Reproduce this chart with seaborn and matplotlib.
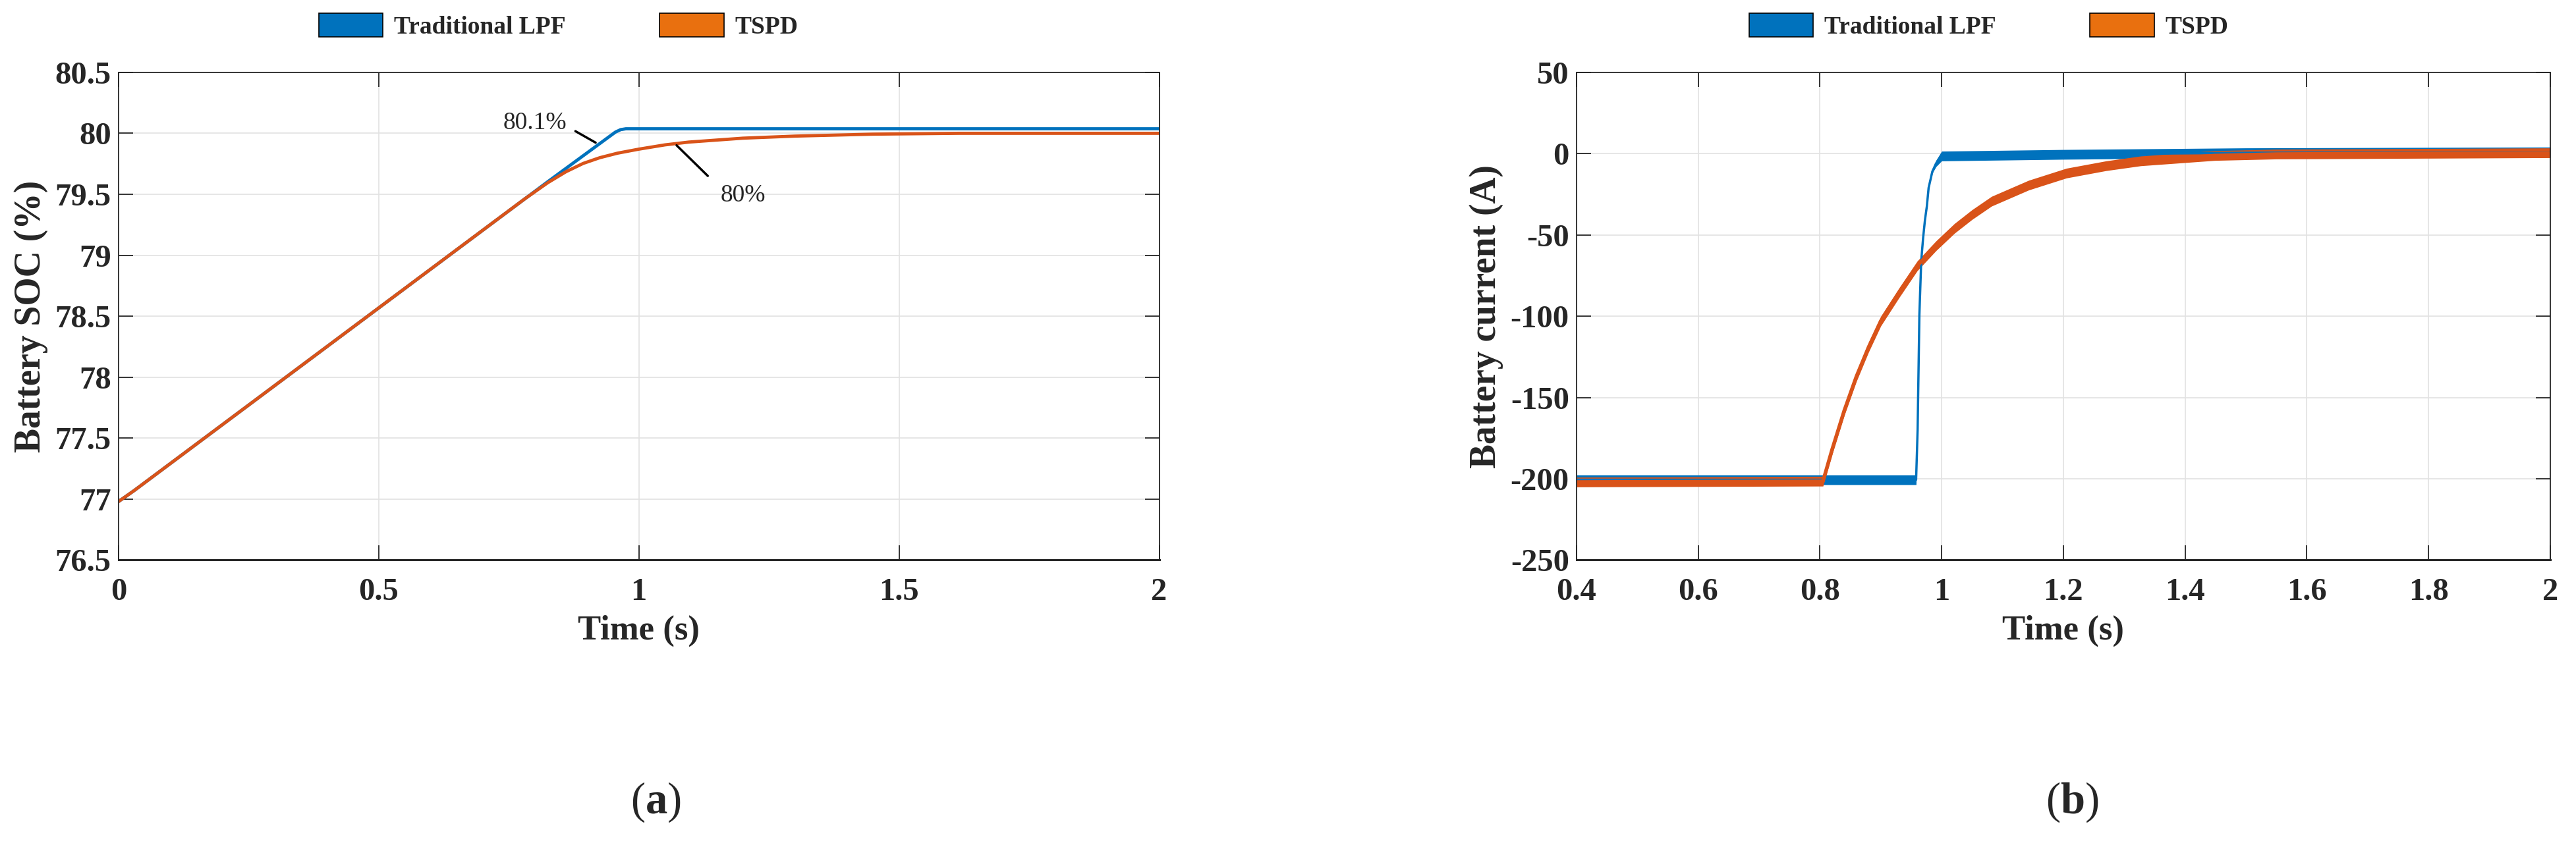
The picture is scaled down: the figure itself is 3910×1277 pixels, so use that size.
import numpy as np
import pandas as pd
import matplotlib
matplotlib.use("Agg")
import matplotlib.pyplot as plt
from matplotlib.patches import Patch
import seaborn as sns

# (a) battery SOC - key points
soc_t_lpf = [0.0, 0.03, 0.825, 0.955, 0.965, 0.975, 2.0]
soc_lpf = [76.98, 77.07, 79.603, 80.01, 80.03, 80.037, 80.037]
soc_t_tspd = [0.0, 0.03, 0.78, 0.825, 0.86, 0.893, 0.925, 0.959, 1.0, 1.05, 1.096,
              1.2, 1.3, 1.45, 1.615, 2.0]
soc_tspd = [76.98, 77.07, 79.46, 79.595, 79.685, 79.753, 79.80, 79.837, 79.87, 79.905, 79.928,
            79.96, 79.977, 79.993, 80.0, 80.0]

# (b) battery current - centre line and ripple half-width
cur_t_lpf = [0.40, 0.958, 0.9605, 0.9634, 0.9664, 0.9695, 0.9725, 0.9756, 0.9786,
             0.9847, 0.9908, 1.0, 1.2, 1.5, 2.0]
cur_lpf = [-200.6, -200.6, -170, -99, -66, -52, -41, -32.6, -21,
           -11, -6, -1.5, -0.5, 0.5, 1.0]
rip_lpf = [3.0, 3.0, 0, 0, 0, 0, 0, 0, 0, 1.0, 2.0, 3.0, 3.0, 3.0, 3.0]

cur_t_tspd = [0.40, 0.805, 0.82, 0.84, 0.86, 0.88, 0.90, 0.93, 0.96, 0.991, 1.021, 1.05,
              1.082, 1.143, 1.205, 1.27, 1.327, 1.449, 1.55, 2.0]
cur_tspd = [-202, -201.5, -182, -158, -137, -119, -103, -85.6, -69, -56.6, -46, -37.5,
            -29.3, -19.4, -12, -7.5, -4.5, -1.2, -0.3, 0.5]
rip_tspd = [3.0] * len(cur_t_tspd)

labels = ["Traditional LPF", "TSPD"]
c_blue = "#0072BD"
c_red = "#D95319"
c_leg = ["#0072BD", "#E9700F"]

sns.set_style("ticks")
plt.rcParams["font.family"] = ["Liberation Serif", "DejaVu Serif"]
plt.rcParams["font.weight"] = "bold"
plt.rcParams["axes.labelweight"] = "bold"
plt.rcParams["axes.unicode_minus"] = False
plt.rcParams["mathtext.fontset"] = "custom"
plt.rcParams["mathtext.rm"] = "Liberation Serif"
plt.rcParams["mathtext.bf"] = "Liberation Serif:bold"

fig = plt.figure(figsize=(39.1, 12.77), dpi=100)
ax1 = fig.add_axes([0.046, 0.334, 0.404, 0.58])
ax2 = fig.add_axes([0.612, 0.334, 0.378, 0.58])


def style(ax):
    ax.grid(True, color="#e2e2e2", lw=1.2)
    ax.set_axisbelow(True)
    for s in ax.spines.values():
        s.set_color("#262626")
        s.set_linewidth(1.3)
    ax.spines["bottom"].set_linewidth(2.2)
    ax.tick_params(direction="in", length=16, width=1.3, top=True, right=True,
                   labelsize=35, colors="#262626")
    ax.tick_params(axis="x", pad=19)
    ax.tick_params(axis="y", pad=8)


# panel (a)
df_a1 = pd.DataFrame({"t": soc_t_lpf, "v": soc_lpf})
df_a2 = pd.DataFrame({"t": soc_t_tspd, "v": soc_tspd})
sns.lineplot(data=df_a1, x="t", y="v", ax=ax1, color=c_blue, lw=3.5, estimator=None, sort=False)
sns.lineplot(data=df_a2, x="t", y="v", ax=ax1, color=c_red, lw=3.5, estimator=None, sort=False)
ax1.set_xlim(0, 2)
ax1.set_ylim(76.5, 80.5)
ax1.set_xticks([0, 0.5, 1, 1.5, 2])
ax1.set_xticklabels(["0", "0.5", "1", "1.5", "2"])
ax1.set_yticks(np.arange(76.5, 80.51, 0.5))
ax1.set_yticklabels(["76.5", "77", "77.5", "78", "78.5", "79", "79.5", "80", "80.5"])
ax1.set_xlabel("Time (s)", fontsize=38, labelpad=9)
ax1.set_ylabel("Battery SOC (%)", fontsize=40, labelpad=8)
style(ax1)

ax1.text(0.80, 80.085, "80.1%", ha="center", va="center", fontsize=27, fontweight="normal")
ax1.annotate("", xy=(0.920, 79.916), xytext=(0.875, 80.025),
             arrowprops=dict(arrowstyle="-", color="black", lw=2.5))
ax1.text(1.20, 79.49, "80%", ha="center", va="center", fontsize=27, fontweight="normal")
ax1.annotate("", xy=(1.135, 79.64), xytext=(1.07, 79.912),
             arrowprops=dict(arrowstyle="-", color="black", lw=2.5))

# panel (b)
t1, y1, r1 = np.array(cur_t_lpf), np.array(cur_lpf), np.array(rip_lpf)
t2, y2, r2 = np.array(cur_t_tspd), np.array(cur_tspd), np.array(rip_tspd)
ax2.fill_between(t1, y1 - r1, y1 + r1, color=c_blue, lw=0)
sns.lineplot(x=t1, y=y1, ax=ax2, color=c_blue, lw=2.5, estimator=None, sort=False)
ax2.fill_between(t2, y2 - r2, y2 + r2, color=c_red, lw=0)
sns.lineplot(x=t2, y=y2, ax=ax2, color=c_red, lw=4, estimator=None, sort=False)
ax2.set_xlim(0.4, 2)
ax2.set_ylim(-250, 50)
ax2.set_xticks(np.arange(0.4, 2.01, 0.2))
ax2.set_xticklabels(["0.4", "0.6", "0.8", "1", "1.2", "1.4", "1.6", "1.8", "2"])
ax2.set_yticks(np.arange(-250, 51, 50))
ax2.set_xlabel("Time (s)", fontsize=38, labelpad=9)
ax2.set_ylabel("Battery current (A)", fontsize=40, labelpad=8)
style(ax2)

# legends
for ax, cx in [(ax1, 0.2168), (ax2, 0.772)]:
    handles = [Patch(facecolor=c, edgecolor="black", lw=1.2, label=l) for c, l in zip(c_leg, labels)]
    ax.legend(handles=handles, loc="center", bbox_to_anchor=(cx, 0.969),
              bbox_transform=fig.transFigure, ncol=2, frameon=False, fontsize=27,
              handlelength=2.6, handleheight=1.1, handletextpad=0.45, columnspacing=3.8)

fig.text(0.2545, 0.046, r"($\mathbf{a}$)", ha="center", va="center", fontsize=48, fontweight="normal")
fig.text(0.8045, 0.046, r"($\mathbf{b}$)", ha="center", va="center", fontsize=48, fontweight="normal")

fig.savefig("out.png", dpi=100)
